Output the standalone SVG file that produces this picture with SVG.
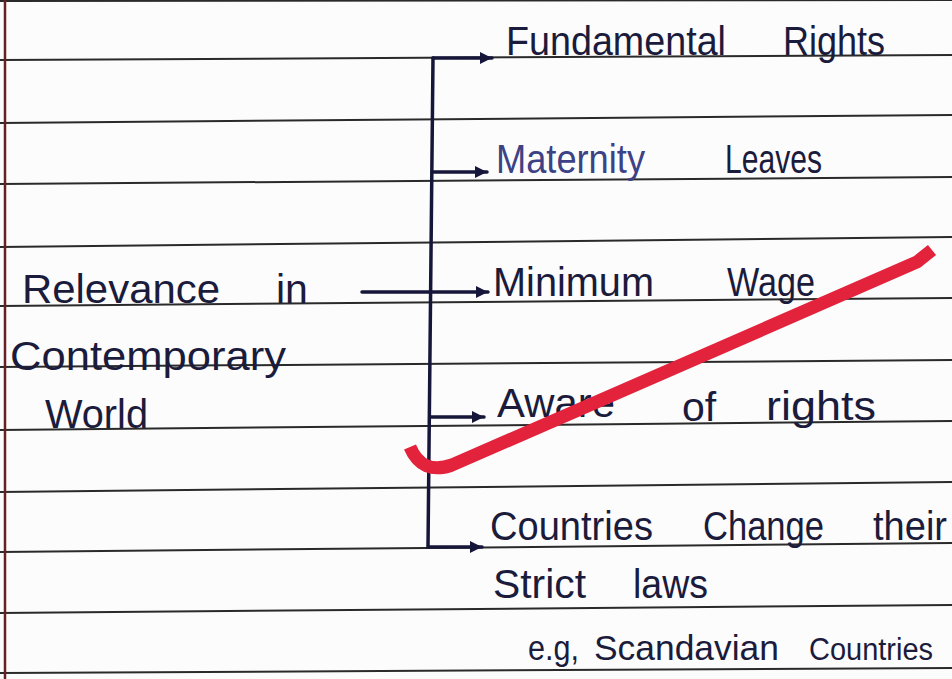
<svg xmlns="http://www.w3.org/2000/svg" width="952" height="679" viewBox="0 0 952 679">
<defs>
<style>
.rule{stroke:#2a2a2a;stroke-width:2;fill:none}
.ink{fill:#1b1b3c;font-family:"Liberation Sans","DejaVu Sans",sans-serif;font-size:41px}
.small{font-size:35px}
.tiny{font-size:31px}
.faded{fill:#3c4285}
.conn{stroke:#16163a;stroke-width:3.5;fill:none;stroke-linecap:round}
</style>
<marker id="ah" markerUnits="userSpaceOnUse" markerWidth="14" markerHeight="14" refX="12" refY="6" orient="auto">
<path d="M0,0 L12,6 L0,12 z" fill="#16163a"/>
</marker>
</defs>
<rect x="0" y="0" width="952" height="679" fill="#fcfcfc"/>
<g id="paper">
<line class="rule" x1="0" y1="1" x2="952" y2="0"/>
<line class="rule" x1="0" y1="60" x2="952" y2="55"/>
<line class="rule" x1="0" y1="123" x2="952" y2="115"/>
<line class="rule" x1="0" y1="184" x2="952" y2="177"/>
<line class="rule" x1="0" y1="247" x2="952" y2="237"/>
<line class="rule" x1="0" y1="306" x2="952" y2="298"/>
<line class="rule" x1="0" y1="367" x2="952" y2="360"/>
<line class="rule" x1="0" y1="430" x2="952" y2="421"/>
<line class="rule" x1="0" y1="492" x2="952" y2="482"/>
<line class="rule" x1="0" y1="552" x2="952" y2="543"/>
<line class="rule" x1="0" y1="613" x2="952" y2="605"/>
<line class="rule" x1="0" y1="673" x2="952" y2="668"/>
<line x1="5" y1="0" x2="5" y2="679" stroke="#6a2020" stroke-width="2.5"/>
</g>
<g id="connectors">
<polyline class="conn" points="433,58 428,547 482,547" marker-end="url(#ah)"/>
<line class="conn" x1="433" y1="58" x2="492" y2="58" marker-end="url(#ah)"/>
<line class="conn" x1="432" y1="172" x2="487" y2="172" marker-end="url(#ah)"/>
<line class="conn" x1="362" y1="292" x2="488" y2="292" marker-end="url(#ah)"/>
<line class="conn" x1="431" y1="417" x2="484" y2="417" marker-end="url(#ah)"/>
</g>
<g id="node-relevance">
<text class="ink" x="22" y="303" textLength="198" lengthAdjust="spacingAndGlyphs">Relevance</text>
<text class="ink" x="276" y="303">in</text>
<text class="ink" x="10" y="370" textLength="276" lengthAdjust="spacingAndGlyphs">Contemporary</text>
<text class="ink" x="45" y="428" textLength="103" lengthAdjust="spacingAndGlyphs">World</text>
</g>
<g id="node-fundamental">
<text class="ink" x="506" y="55" textLength="220" lengthAdjust="spacingAndGlyphs">Fundamental</text>
<text class="ink" x="783" y="55" textLength="102" lengthAdjust="spacingAndGlyphs">Rights</text>
</g>
<g id="node-maternity">
<text class="ink faded" x="496" y="173" textLength="149" lengthAdjust="spacingAndGlyphs">Maternity</text>
<text class="ink" x="725" y="173" textLength="97" lengthAdjust="spacingAndGlyphs">Leaves</text>
</g>
<g id="node-minimum">
<text class="ink" x="493" y="296" textLength="161" lengthAdjust="spacingAndGlyphs">Minimum</text>
<text class="ink" x="727" y="296" textLength="88" lengthAdjust="spacingAndGlyphs">Wage</text>
</g>
<g id="node-awareness">
<text class="ink" x="497" y="417" textLength="118" lengthAdjust="spacingAndGlyphs">Aware</text>
<text class="ink" x="682" y="421">of</text>
<text class="ink" x="766" y="420" textLength="110" lengthAdjust="spacingAndGlyphs">rights</text>
</g>
<g id="node-countries">
<text class="ink" x="490" y="540" textLength="163" lengthAdjust="spacingAndGlyphs">Countries</text>
<text class="ink" x="703" y="540" textLength="121" lengthAdjust="spacingAndGlyphs">Change</text>
<text class="ink" x="873" y="540" textLength="74" lengthAdjust="spacingAndGlyphs">their</text>
<text class="ink" x="493" y="598" textLength="93" lengthAdjust="spacingAndGlyphs">Strict</text>
<text class="ink" x="633" y="598" textLength="75" lengthAdjust="spacingAndGlyphs">laws</text>
<text class="ink small" x="528" y="660" textLength="51" lengthAdjust="spacingAndGlyphs">e.g,</text>
<text class="ink small" x="594" y="660" textLength="185" lengthAdjust="spacingAndGlyphs">Scandavian</text>
<text class="ink tiny" x="809" y="660" textLength="124" lengthAdjust="spacingAndGlyphs">Countries</text>
</g>
<g id="red-stroke">
<path d="M410 447 C418 466 432 472 452 465 L917 262 L932 250" fill="none" stroke="#e3223c" stroke-width="13" stroke-linejoin="miter"/>
</g>
</svg>
